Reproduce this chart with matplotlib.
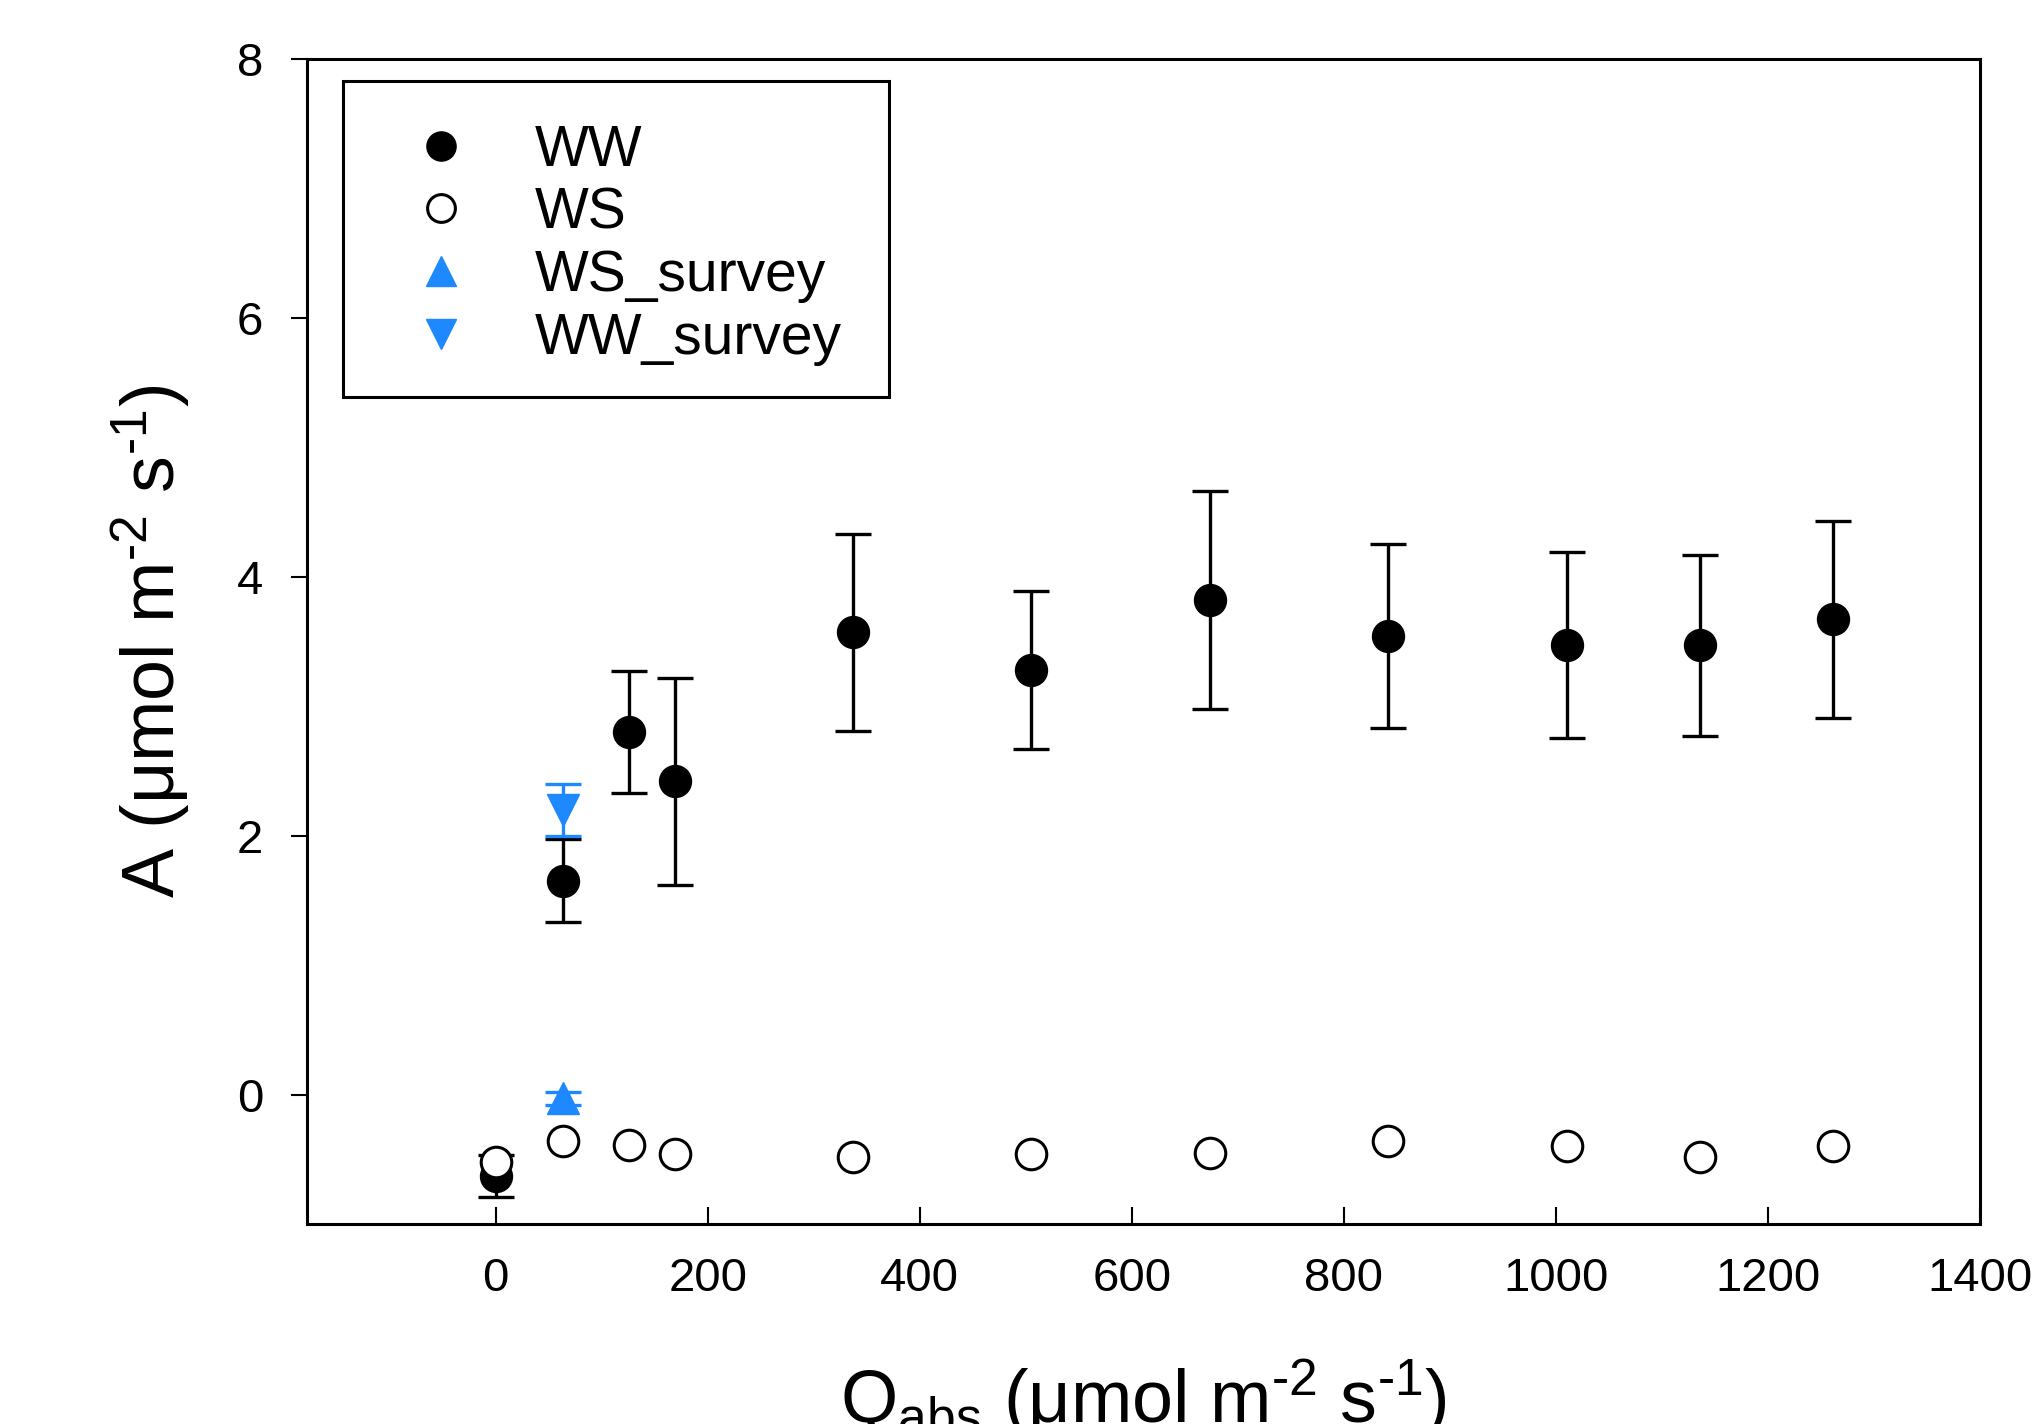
import matplotlib
matplotlib.use("Agg")
import matplotlib.pyplot as plt
from matplotlib.lines import Line2D
from matplotlib.patches import Rectangle

plt.rcParams['font.family'] = ['Liberation Sans', 'DejaVu Sans']
plt.rcParams['mathtext.default'] = 'regular'

# Light response data
q_abs = [0, 63, 126, 169, 337, 505, 674, 842, 1010, 1136, 1261]
ww_mean = [-0.63, 1.65, 2.80, 2.42, 3.57, 3.28, 3.82, 3.54, 3.47, 3.47, 3.67]
ww_err = [0.16, 0.32, 0.47, 0.80, 0.76, 0.61, 0.84, 0.71, 0.72, 0.70, 0.76]
ws_mean = [-0.52, -0.36, -0.39, -0.46, -0.48, -0.46, -0.45, -0.36, -0.40, -0.48, -0.40]

survey_q = [63]
ws_survey = [-0.03]
ws_survey_err = [0.05]
ww_survey = [2.20]
ww_survey_err = [0.20]

blue = '#1e88ff'

fig = plt.figure(figsize=(20.4, 14.24), dpi=100)
ax = fig.add_axes([0.1505, 0.1404, 0.8201, 0.8185])

ax.errorbar(q_abs, ww_mean, yerr=ww_err, fmt='o', color='black', ms=23,
            elinewidth=2.4, capsize=13, capthick=2.4, zorder=3)
ax.plot(q_abs, ws_mean, 'o', ms=22, mfc='white', mec='black', mew=2.2, zorder=4)
ax.errorbar(survey_q, ws_survey, yerr=ws_survey_err, fmt='^', color=blue, ms=23,
            elinewidth=2.4, capsize=13, capthick=2.4, zorder=5)
ax.errorbar(survey_q, ww_survey, yerr=ww_survey_err, fmt='v', color=blue, ms=23,
            elinewidth=2.4, capsize=13, capthick=2.4, zorder=5)

ax.set_xlim(-178, 1400)
ax.set_ylim(-1, 8)
ax.set_xticks(range(0, 1401, 200))
ax.set_yticks(range(0, 9, 2))

for s in ax.spines.values():
    s.set_linewidth(2.2)
ax.tick_params(axis='x', direction='in', length=12, width=1.5, labelsize=34, pad=24)
ax.tick_params(axis='y', direction='out', length=11.5, width=1.5, labelsize=34, pad=20)

unit = ' (μmol m$^{\u20102}$ s$^{\u20101}$)'
ax.set_ylabel('A' + unit, fontsize=53, labelpad=32)
ax.set_xlabel('Q$_{abs}$' + unit, fontsize=53, labelpad=40)

handles = [
    Line2D([], [], ls='none', marker='o', ms=21, color='black'),
    Line2D([], [], ls='none', marker='o', ms=20, mfc='white', mec='black', mew=2.2),
    Line2D([], [], ls='none', marker='^', ms=22, color=blue),
    Line2D([], [], ls='none', marker='v', ms=22, color=blue),
]
labels = ['WW', 'WS', 'WS_survey', 'WW_survey']
leg = ax.legend(handles, labels, loc='upper left', bbox_to_anchor=(0.0215, 0.9745),
                borderaxespad=0, fontsize=41, frameon=False, borderpad=0.62,
                handlelength=2.21, handletextpad=0.53, labelspacing=0.153)
# legend frame box
ax.add_patch(Rectangle((0.0215, 0.7096), 0.3264, 0.2711, transform=ax.transAxes,
                       fill=False, edgecolor='black', lw=2.2, zorder=6))

fig.savefig('out.png', dpi=100)
